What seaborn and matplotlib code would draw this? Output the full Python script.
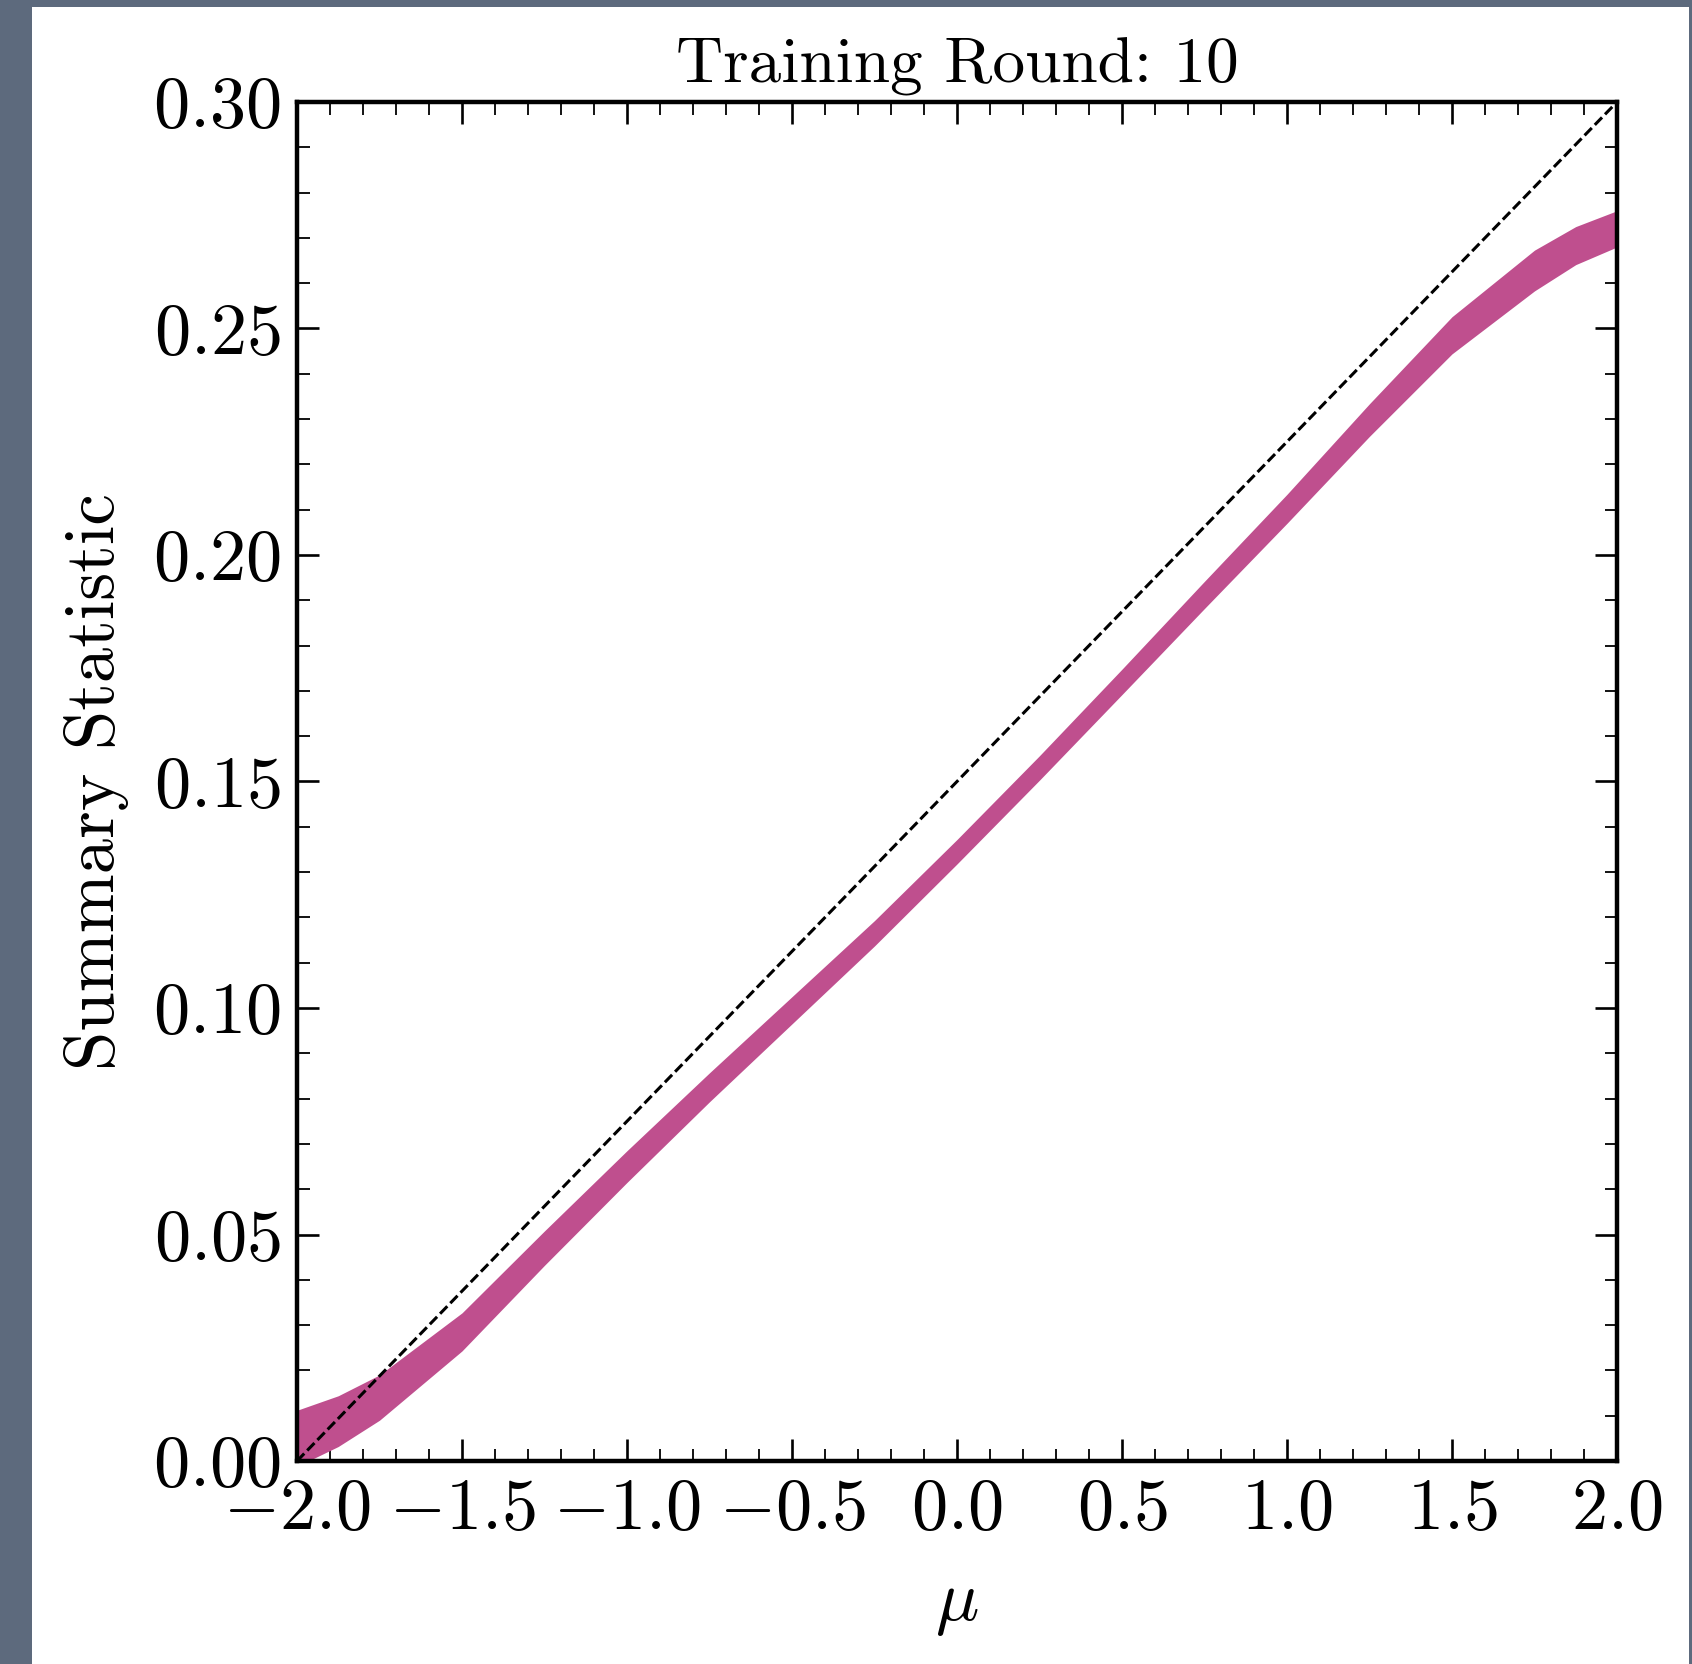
import numpy as np
import pandas as pd
import seaborn as sns
import matplotlib.pyplot as plt
from matplotlib.patches import Rectangle
from matplotlib.ticker import MultipleLocator

# band of summary statistic values
mu = [-2.0, -1.875, -1.75, -1.5, -1.25, -1.0, -0.75, -0.5, -0.25, 0.0,
      0.25, 0.5, 0.75, 1.0, 1.25, 1.5, 1.75, 1.875, 2.0]
stat_mid = [0.0050, 0.0088, 0.0140, 0.0285, 0.0470, 0.0650, 0.0825, 0.0995, 0.1165, 0.1345,
            0.1530, 0.1720, 0.1912, 0.2102, 0.2298, 0.2485, 0.2628, 0.2683, 0.2720]
stat_half = [0.0062, 0.0056, 0.0050, 0.0042, 0.0038, 0.0035, 0.0032, 0.0030, 0.0028, 0.0027,
             0.0027, 0.0028, 0.0030, 0.0032, 0.0036, 0.0041, 0.0045, 0.0042, 0.0040]

# 1:1 reference line
diag_mu = [-2.0, 2.0]
diag_stat = [0.0, 0.30]

band_color = "#bf4f8e"

sns.set_style("ticks")
plt.rcParams.update({
    "font.family": "serif",
    "font.serif": ["cmr10"],
    "mathtext.fontset": "cm",
    "axes.formatter.use_mathtext": True,
    "axes.unicode_minus": True,
    "text.color": "black",
    "axes.labelcolor": "black",
    "xtick.color": "black",
    "ytick.color": "black",
})

fig = plt.figure(figsize=(16.92, 16.64), dpi=100, facecolor="#5d6a7d")
fig.patches.append(Rectangle((32 / 1692, 0), (1689 - 32) / 1692, (1664 - 7) / 1664,
                             transform=fig.transFigure, facecolor="white", edgecolor="none", zorder=-10))
ax = fig.add_axes([297 / 1692, 1 - 1461 / 1664, 1320 / 1692, 1359 / 1664])
ax.set_zorder(5)
ax.set_facecolor("white")

df = pd.DataFrame({"mu": mu, "mid": stat_mid, "half": stat_half})
ax.fill_between(df["mu"], df["mid"] - df["half"], df["mid"] + df["half"],
                color=band_color, lw=0, zorder=2)
sns.lineplot(x=df["mu"], y=df["mid"], ax=ax, color=band_color, lw=1, zorder=2)
sns.lineplot(x=diag_mu, y=diag_stat, ax=ax, color="black", lw=2.2,
             linestyle=(0, (3.4, 1.4)), zorder=3)

ax.set_xlim(-2, 2)
ax.set_ylim(0, 0.3)
ax.xaxis.set_major_locator(MultipleLocator(0.5))
ax.xaxis.set_minor_locator(MultipleLocator(0.1))
ax.yaxis.set_major_locator(MultipleLocator(0.05))
ax.yaxis.set_minor_locator(MultipleLocator(0.01))
ax.tick_params(which="both", direction="in", top=True, right=True, labelsize=52, pad=12)
ax.tick_params(which="major", length=16, width=1.9)
ax.tick_params(which="minor", length=9, width=1.3)
for s in ax.spines.values():
    s.set_linewidth(3.2)
    s.set_color("black")

ax.set_xlabel(r"$\mu$", fontsize=52, labelpad=22)
ax.set_ylabel("Summary Statistic", fontsize=51, labelpad=17)
ax.set_title("Training Round: 10", fontsize=47, pad=14)

fig.savefig("out.png", dpi=100, facecolor=fig.get_facecolor())
